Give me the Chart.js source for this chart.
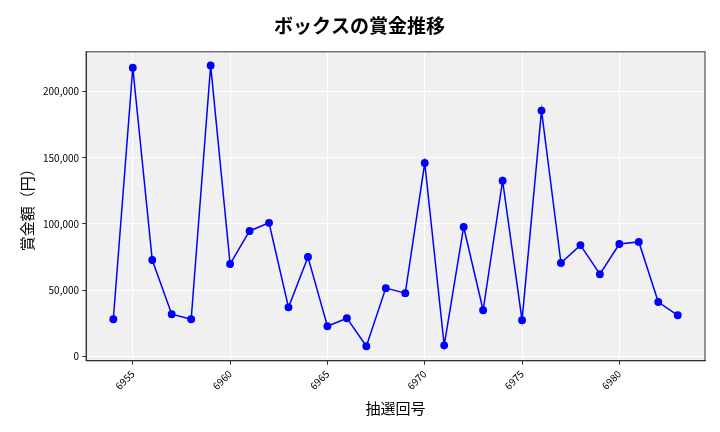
<!DOCTYPE html>
<html>
<head>
<meta charset="utf-8">
<script src="https://cdn.jsdelivr.net/npm/chart.js@4"></script>
<style>
  html, body { margin: 0; padding: 0; background: #fff; }
  #wrap { width: 720px; height: 432px; }
</style>
</head>
<body>
<div id="wrap"><canvas id="c"></canvas></div>
<script>
const rounds = [6954, 6955, 6956, 6957, 6958, 6959, 6960, 6961, 6962, 6963,
  6964, 6965, 6966, 6967, 6968, 6969, 6970, 6971, 6972, 6973,
  6974, 6975, 6976, 6977, 6978, 6979, 6980, 6981, 6982, 6983];
const prizes = [28000, 218000, 72700, 31800, 28000, 219700, 69700, 94700, 100800, 37000,
  75000, 22700, 28800, 7600, 51500, 47700, 146000, 8300, 97700, 34800,
  132600, 27300, 185600, 70500, 84000, 62000, 84800, 86400, 41000, 31000];

const font = "'Noto Sans CJK JP', 'Noto Sans', sans-serif";

const plotBg = {
  id: "plotBg",
  beforeDraw(chart) {
    const { ctx, chartArea: a } = chart;
    ctx.save();
    ctx.fillStyle = "#f0f0f0";
    ctx.fillRect(a.left, a.top, a.right - a.left, a.bottom - a.top);
    ctx.restore();
  },
  afterDraw(chart) {
    const { ctx, chartArea: a } = chart;
    ctx.save();
    ctx.strokeStyle = "#333";
    ctx.lineWidth = 1;
    ctx.strokeRect(a.left, a.top, a.right - a.left, a.bottom - a.top);
    ctx.restore();
  }
};

new Chart(document.getElementById("c"), {
  type: "line",
  data: {
    datasets: [{
      data: rounds.map((r, i) => ({ x: r, y: prizes[i] })),
      borderColor: "#0000ff",
      backgroundColor: "#0000ff",
      borderWidth: 1.5,
      pointRadius: 3.2,
      tension: 0
    }]
  },
  options: {
    responsive: true,
    maintainAspectRatio: false,
    animation: false,
    layout: { padding: { left: 14, right: 15, top: 6, bottom: 11 } },
    plugins: {
      legend: { display: false },
      tooltip: { enabled: false },
      title: {
        display: true,
        text: "ボックスの賞金推移",
        color: "#000",
        font: { family: font, size: 19, weight: "bold" },
        padding: { top: 8, bottom: 15 }
      }
    },
    scales: {
      x: {
        type: "linear",
        min: 6952.6,
        max: 6984.4,
        afterBuildTicks(axis) {
          axis.ticks = [6955, 6960, 6965, 6970, 6975, 6980].map(v => ({ value: v }));
        },
        grid: { color: "#ffffff", drawTicks: true, tickColor: "#333", tickLength: 4 },
        border: { color: "#333" },
        ticks: { color: "#000", font: { family: font, size: 10 }, maxRotation: 45, minRotation: 45, callback: v => String(v) },
        title: { display: true, text: "抽選回号", color: "#000", font: { family: font, size: 15 } }
      },
      y: {
        min: -3400,
        max: 230000,
        afterBuildTicks(axis) {
          axis.ticks = [0, 50000, 100000, 150000, 200000].map(v => ({ value: v }));
        },
        grid: { color: "#ffffff", tickColor: "#333", tickLength: 4 },
        border: { color: "#333" },
        ticks: { color: "#000", font: { family: font, size: 10 }, callback: v => Number(v).toLocaleString("en-US") },
        title: { display: true, text: "賞金額（円）", color: "#000", font: { family: font, size: 15 } }
      }
    }
  },
  plugins: [plotBg]
});
</script>
</body>
</html>
